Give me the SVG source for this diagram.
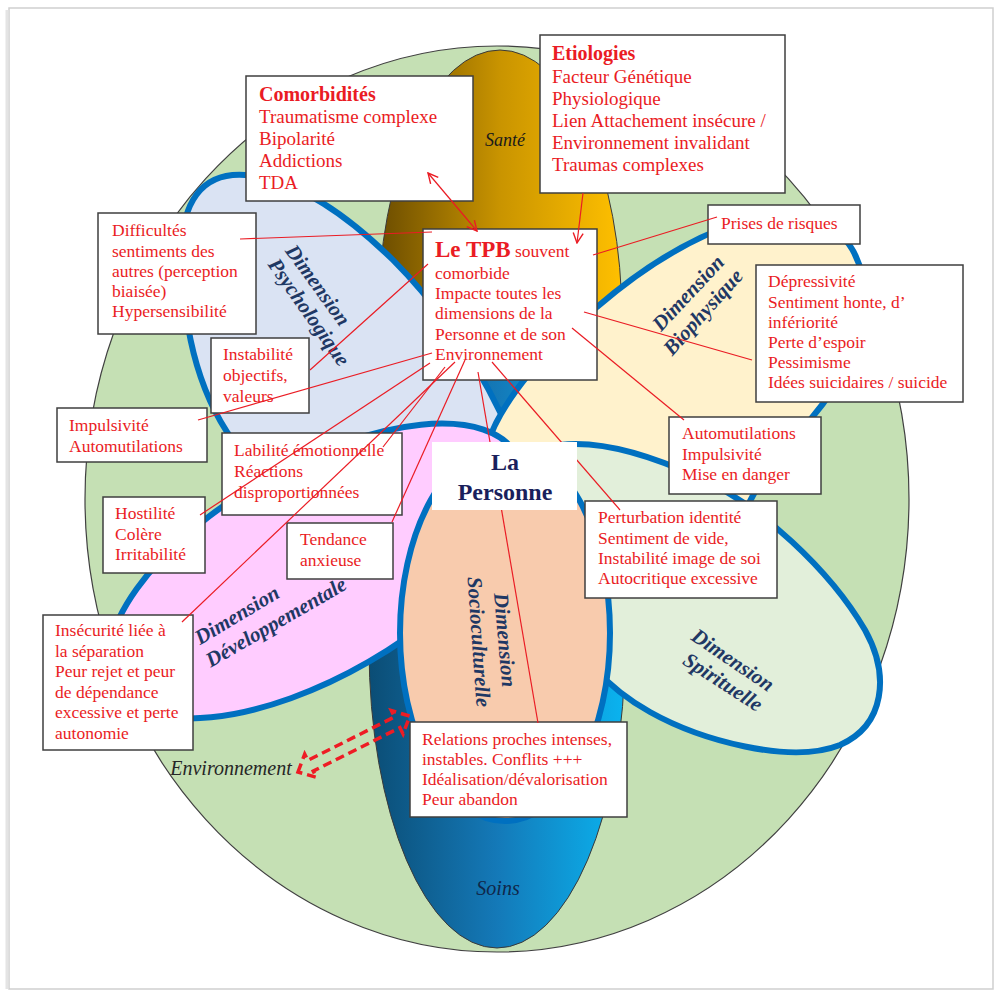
<svg xmlns="http://www.w3.org/2000/svg" width="998" height="996" viewBox="0 0 998 996">
  <defs>
    <style>
      .box { fill:#ffffff; stroke:#3f3f3f; stroke-width:1.5; }
      .t { font-family:"Liberation Serif","Times New Roman",serif; font-size:17.5px; fill:#ea1c24; }
      .big { font-size:19px; }
      .ttl { font-size:20px; font-weight:bold; }
      .dim { font-family:"Liberation Serif","Times New Roman",serif; font-size:21px; font-weight:bold; font-style:italic; fill:#1f3864; text-anchor:middle; }
      .petal { stroke:#0070c0; stroke-width:6; }
      .lbl { font-family:"Liberation Serif","Times New Roman",serif; font-style:italic; }
      #connectors line { stroke:#ea1c24; stroke-width:1.2; }
    </style>
    <linearGradient id="gSante" x1="0" y1="0" x2="1" y2="0">
      <stop offset="0" stop-color="#6b4c00"/>
      <stop offset="0.5" stop-color="#c99400"/>
      <stop offset="1" stop-color="#ffc000"/>
    </linearGradient>
    <linearGradient id="gSoins" x1="0" y1="0" x2="1" y2="0">
      <stop offset="0" stop-color="#0b4d75"/>
      <stop offset="0.5" stop-color="#1479b8"/>
      <stop offset="1" stop-color="#0ab4f0"/>
    </linearGradient>
    <marker id="arr" viewBox="0 0 12 12" refX="11" refY="6" markerWidth="12" markerHeight="12" markerUnits="userSpaceOnUse" orient="auto-start-reverse">
      <path d="M1,1 L11,6 L1,11" fill="none" stroke="#ea1c24" stroke-width="1.4"/>
    </marker>
  </defs>

  <!-- page -->
  <rect x="0" y="0" width="998" height="996" fill="#ffffff"/>
  <rect x="9" y="8" width="984" height="981" fill="none" stroke="#cfcfcf" stroke-width="1.5"/>
  <line x1="7" y1="10" x2="7" y2="989" stroke="#e4e4e4" stroke-width="3"/>

  <!-- environment background -->
  <ellipse id="environnement" cx="497" cy="499" rx="412" ry="453" fill="#c5e0b4" stroke="#404040" stroke-width="1.2"/>

  <!-- axes Santé / Soins -->
  <ellipse id="sante" cx="500" cy="320" rx="122" ry="270" fill="url(#gSante)" stroke="#3a3a3a" stroke-width="1"/>
  <ellipse id="soins" cx="497" cy="648" rx="128" ry="300" fill="url(#gSoins)" stroke="#3a3a3a" stroke-width="1"/>

  <!-- dimensions (petals) -->
  <path id="psycho" class="petal" fill="#dae3f3" d="M520,440 L500,412 C470,350 430,297 393,260 C350,218 300,180 245,175 C200,172 182,205 182,250 C182,330 200,400 240,450 C300,500 450,480 520,440 Z"/>
  <path id="biophys" class="petal" fill="#fff2cc" d="M486,448 C500,400 550,345 597,307 C640,270 690,238 740,222 C800,205 850,220 862,275 C872,330 840,385 810,420 C780,455 760,480 748,505 C660,500 540,470 486,448 Z"/>
  <ellipse id="dev" class="petal" fill="#ffccff" cx="316" cy="571" rx="232" ry="105" transform="rotate(-30 316 571)"/>
  <path id="spirit" class="petal" fill="#e2efda" d="M560,445 C600,440 650,455 700,478 C760,505 830,570 865,630 C890,675 885,725 840,745 C790,765 700,740 650,712 C610,690 570,650 550,600 Z"/>
  <ellipse id="socio" class="petal" fill="#f8cbad" cx="505" cy="633" rx="105" ry="188"/>

  <!-- dimension labels -->
  <g id="labels">
    <text class="dim" transform="translate(318,285) rotate(54)" y="7">Dimension</text>
    <text class="dim" transform="translate(309,312) rotate(55)" y="7">Psychologique</text>
    <text class="dim" transform="translate(688,293) rotate(-47)" y="7">Dimension</text>
    <text class="dim" transform="translate(703,312) rotate(-48)" y="7">Biophysique</text>
    <text class="dim" transform="translate(237,615) rotate(-31)" y="7">Dimension</text>
    <text class="dim" transform="translate(276,622) rotate(-30)" y="7">Développementale</text>
    <text class="dim" transform="translate(505,640) rotate(85)" y="7">Dimension</text>
    <text class="dim" transform="translate(479,642) rotate(86)" y="7">Socioculturelle</text>
    <text class="dim" transform="translate(733,660) rotate(34)" y="7">Dimension</text>
    <text class="dim" transform="translate(723,682) rotate(33)" y="7">Spirituelle</text>
    <text class="lbl" x="505" y="146" font-size="18" fill="#1a1a1a" text-anchor="middle">Santé</text>
    <text class="lbl" x="498" y="895" font-size="20" fill="#10274a" text-anchor="middle">Soins</text>
    <text class="lbl" x="231" y="775" font-size="20" fill="#262626" text-anchor="middle">Environnement</text>
  </g>

  <!-- red text boxes -->
  <g id="comorbidites">
    <rect class="box" x="246" y="76" width="227" height="125"/>
    <text class="t big" x="259"><tspan class="ttl" x="259" y="101">Comorbidités</tspan><tspan x="259" y="123">Traumatisme complexe</tspan><tspan x="259" y="145">Bipolarité</tspan><tspan x="259" y="167">Addictions</tspan><tspan x="259" y="189">TDA</tspan></text>
  </g>
  <g id="etiologies">
    <rect class="box" x="540" y="35" width="245" height="158"/>
    <text class="t big"><tspan class="ttl" x="552" y="60">Etiologies</tspan><tspan x="552" y="83">Facteur Génétique</tspan><tspan x="552" y="105">Physiologique</tspan><tspan x="552" y="127">Lien Attachement insécure /</tspan><tspan x="552" y="149">Environnement invalidant</tspan><tspan x="552" y="171">Traumas complexes</tspan></text>
  </g>
  <g id="tpb">
    <rect class="box" x="423" y="229" width="174" height="151"/>
    <text class="t"><tspan x="435" y="257" font-size="23" font-weight="bold">Le TPB</tspan><tspan> souvent</tspan><tspan x="435" y="279">comorbide</tspan><tspan x="435" y="299">Impacte toutes les</tspan><tspan x="435" y="319">dimensions de la</tspan><tspan x="435" y="340">Personne et de son</tspan><tspan x="435" y="360">Environnement</tspan></text>
  </g>
  <g id="difficultes">
    <rect class="box" x="98" y="213" width="158" height="121"/>
    <text class="t"><tspan x="112" y="236">Difficultés</tspan><tspan x="112" y="257">sentiments des</tspan><tspan x="112" y="277">autres (perception</tspan><tspan x="112" y="297">biaisée)</tspan><tspan x="112" y="317">Hypersensibilité</tspan></text>
  </g>
  <g id="instabilite">
    <rect class="box" x="211" y="338" width="98" height="75"/>
    <text class="t"><tspan x="223" y="360">Instabilité</tspan><tspan x="223" y="381">objectifs,</tspan><tspan x="223" y="402">valeurs</tspan></text>
  </g>
  <g id="impulsivite">
    <rect class="box" x="57" y="408" width="150" height="54"/>
    <text class="t"><tspan x="69" y="431">Impulsivité</tspan><tspan x="69" y="452">Automutilations</tspan></text>
  </g>
  <g id="labilite">
    <rect class="box" x="222" y="433" width="180" height="82"/>
    <text class="t"><tspan x="234" y="456">Labilité émotionnelle</tspan><tspan x="234" y="477">Réactions</tspan><tspan x="234" y="498">disproportionnées</tspan></text>
  </g>
  <g id="hostilite">
    <rect class="box" x="103" y="497" width="102" height="76"/>
    <text class="t"><tspan x="115" y="519">Hostilité</tspan><tspan x="115" y="540">Colère</tspan><tspan x="115" y="560">Irritabilité</tspan></text>
  </g>
  <g id="tendance">
    <rect class="box" x="287" y="523" width="106" height="56"/>
    <text class="t"><tspan x="300" y="545">Tendance</tspan><tspan x="300" y="566">anxieuse</tspan></text>
  </g>
  <g id="insecurite">
    <rect class="box" x="43" y="615" width="150" height="135"/>
    <text class="t"><tspan x="55" y="636">Insécurité liée à</tspan><tspan x="55" y="657">la séparation</tspan><tspan x="55" y="677">Peur rejet et peur</tspan><tspan x="55" y="698">de dépendance</tspan><tspan x="55" y="718">excessive et perte</tspan><tspan x="55" y="739">autonomie</tspan></text>
  </g>
  <g id="prises">
    <rect class="box" x="708" y="205" width="152" height="39"/>
    <text class="t" x="721" y="229">Prises de risques</text>
  </g>
  <g id="depressivite">
    <rect class="box" x="756" y="265" width="207" height="137"/>
    <text class="t"><tspan x="768" y="287">Dépressivité</tspan><tspan x="768" y="308">Sentiment honte, d’</tspan><tspan x="768" y="328">infériorité</tspan><tspan x="768" y="348">Perte d’espoir</tspan><tspan x="768" y="368">Pessimisme</tspan><tspan x="768" y="388">Idées suicidaires / suicide</tspan></text>
  </g>
  <g id="automutilations">
    <rect class="box" x="669" y="417" width="152" height="77"/>
    <text class="t"><tspan x="682" y="439">Automutilations</tspan><tspan x="682" y="460">Impulsivité</tspan><tspan x="682" y="480">Mise en danger</tspan></text>
  </g>
  <g id="perturbation">
    <rect class="box" x="585" y="501" width="192" height="97"/>
    <text class="t"><tspan x="598" y="523">Perturbation identité</tspan><tspan x="598" y="544">Sentiment de vide,</tspan><tspan x="598" y="564">Instabilité image de soi</tspan><tspan x="598" y="584">Autocritique excessive</tspan></text>
  </g>
  <g id="relations">
    <rect class="box" x="410" y="722" width="217" height="95"/>
    <text class="t"><tspan x="422" y="745">Relations proches intenses,</tspan><tspan x="422" y="765">instables. Conflits +++</tspan><tspan x="422" y="785">Idéalisation/dévalorisation</tspan><tspan x="422" y="805">Peur abandon</tspan></text>
  </g>

  <!-- connectors -->
  <g id="connectors">
    <line x1="428" y1="173" x2="477" y2="231" marker-start="url(#arr)" marker-end="url(#arr)"/>
    <line x1="583" y1="193" x2="577" y2="243" marker-end="url(#arr)"/>
    <line x1="240" y1="239" x2="432" y2="232"/>
    <line x1="310" y1="370" x2="428" y2="264"/>
    <line x1="198" y1="420" x2="432" y2="353"/>
    <line x1="430" y1="363" x2="200" y2="515"/>
    <line x1="455" y1="362" x2="182" y2="622"/>
    <line x1="445" y1="367" x2="383" y2="447"/>
    <line x1="465" y1="360" x2="392" y2="522"/>
    <line x1="593" y1="255" x2="717" y2="217"/>
    <line x1="584" y1="312" x2="752" y2="360"/>
    <line x1="572" y1="328" x2="684" y2="420"/>
    <line x1="492" y1="362" x2="620" y2="510"/>
    <line x1="478" y1="372" x2="538" y2="723"/>
    <path d="M0,0 L14,-13 L14,-6 L111,-6 L111,-13 L125,0 L111,13 L111,6 L14,6 L14,13 Z" transform="translate(298,772) rotate(-26.6)" fill="none" stroke="#ee1c24" stroke-width="3.5" stroke-dasharray="9 5"/>
  </g>

  <!-- centre -->
  <g id="personne">
    <rect x="432" y="442" width="145" height="68" fill="#ffffff"/>
    <text x="505" y="470" font-family="Liberation Serif, Times New Roman, serif" font-size="24" font-weight="bold" fill="#1a1f5c" text-anchor="middle">La</text>
    <text x="505" y="500" font-family="Liberation Serif, Times New Roman, serif" font-size="24" font-weight="bold" fill="#1a1f5c" text-anchor="middle">Personne</text>
  </g>
</svg>
